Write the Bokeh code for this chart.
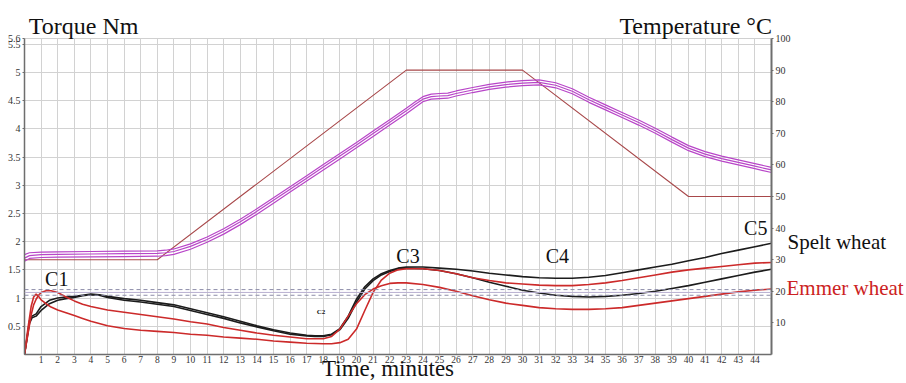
from bokeh.plotting import figure
from bokeh.models import Range1d, LinearAxis, FixedTicker, Span, Label
from bokeh.embed import file_html
from bokeh.resources import INLINE

# ---------------- data ----------------
spelt_t = [0, 0.15, 0.3, 0.45, 0.7, 1, 1.5, 2, 2.5, 3, 3.5, 4, 4.5, 5,
           6, 7, 8, 9, 10, 11, 12, 13, 14, 15, 16, 17,
           17.5, 18, 18.5, 19, 19.5, 20, 20.5, 21, 21.5, 22, 22.5, 23,
           24, 25, 26, 27, 28, 29, 30, 31, 32, 33, 34, 35, 36, 37, 38, 39, 40, 41, 42, 43, 44, 45]
spelt_1 = [0, 0.30, 0.60, 0.68, 0.72, 0.85, 0.96, 1.00, 1.02, 1.03, 1.05, 1.07, 1.06, 1.03,
           0.99, 0.96, 0.92, 0.88, 0.81, 0.74, 0.67, 0.59, 0.51, 0.44, 0.38, 0.34,
           0.33, 0.33, 0.36, 0.46, 0.68, 0.98, 1.20, 1.34, 1.43, 1.49, 1.53, 1.55,
           1.55, 1.53, 1.51, 1.48, 1.44, 1.41, 1.38, 1.36, 1.35, 1.35, 1.37, 1.40, 1.45, 1.50,
           1.55, 1.60, 1.66, 1.72, 1.79, 1.85, 1.91, 1.97]
spelt_2 = [0, 0.28, 0.55, 0.65, 0.68, 0.78, 0.90, 0.96, 0.99, 1.01, 1.04, 1.06, 1.05, 1.01,
           0.96, 0.93, 0.89, 0.85, 0.78, 0.71, 0.64, 0.56, 0.49, 0.42, 0.36, 0.33,
           0.32, 0.32, 0.35, 0.44, 0.64, 0.93, 1.16, 1.31, 1.41, 1.47, 1.51, 1.53,
           1.52, 1.49, 1.43, 1.36, 1.28, 1.21, 1.14, 1.09, 1.05, 1.03, 1.02, 1.03, 1.05, 1.08,
           1.12, 1.17, 1.22, 1.28, 1.34, 1.40, 1.46, 1.51]

emmer_t = [0, 0.2, 0.4, 0.55, 0.7, 0.85, 1, 1.3, 1.6, 2, 2.5, 3, 3.5, 4,
           5, 6, 7, 8, 9, 10, 11, 12, 13, 14, 15, 16, 17, 18,
           18.5, 19, 19.5, 20, 20.5, 21, 21.5, 22, 22.5, 23,
           24, 25, 26, 27, 28, 29, 30, 31, 32, 33, 34, 35, 36, 37, 38, 39, 40, 41, 42, 43, 44, 45]
emmer_1 = [0, 0.45, 0.85, 1.02, 1.07, 1.03, 0.97, 0.90, 0.84, 0.79, 0.74, 0.69, 0.64, 0.59,
           0.51, 0.46, 0.43, 0.41, 0.39, 0.36, 0.34, 0.31, 0.29, 0.27, 0.24, 0.22, 0.20, 0.19,
           0.19, 0.21, 0.27, 0.45, 0.78, 1.10, 1.32, 1.44, 1.50, 1.52,
           1.52, 1.49, 1.43, 1.36, 1.31, 1.27, 1.25, 1.23, 1.22, 1.22, 1.24, 1.27, 1.31, 1.36,
           1.41, 1.46, 1.50, 1.53, 1.56, 1.59, 1.62, 1.63]
emmer_2 = [0, 0.35, 0.70, 0.88, 0.98, 1.05, 1.10, 1.13, 1.13, 1.10, 1.02, 0.95, 0.89, 0.85,
           0.79, 0.75, 0.71, 0.67, 0.63, 0.58, 0.54, 0.48, 0.43, 0.38, 0.34, 0.31, 0.28, 0.28,
           0.32, 0.45, 0.68, 0.90, 1.06, 1.16, 1.22, 1.26, 1.27, 1.27,
           1.24, 1.19, 1.12, 1.04, 0.97, 0.91, 0.87, 0.83, 0.81, 0.80, 0.80, 0.81, 0.83, 0.87,
           0.91, 0.95, 0.99, 1.03, 1.07, 1.11, 1.14, 1.16]

# set temperature profile (deg C)
temp_t = [0, 8, 23, 30, 40, 45]
temp_set = [30, 30, 90, 90, 50, 50]

# measured dough temperatures (deg C)
mag_t = [0, 0.3, 1, 2, 4, 6, 8, 8.5, 9, 10, 11, 12, 13, 14, 15, 16, 17, 18, 19, 20, 21, 22, 23,
         23.5, 24, 24.5, 25, 25.5, 26, 27, 28, 29, 30, 31, 32, 33, 34, 35, 36, 37, 38, 39, 40,
         41, 42, 43, 44, 45]
mag_1 = [31.6, 32.2, 32.4, 32.5, 32.6, 32.7, 32.8, 33.0, 33.4, 35.0, 37.2, 39.8, 42.8, 46.1,
         49.6, 53.1, 56.6, 60.1, 63.6, 67.1, 70.7, 74.3, 77.9, 79.8, 81.6, 82.4, 82.6, 82.7,
         83.4, 84.5, 85.5, 86.2, 86.7, 86.9, 86.0, 84.1, 81.4, 79.0, 76.6, 74.2, 71.6, 68.8,
         66.1, 64.2, 62.8, 61.6, 60.4, 59.2]
mag_2 = [30.5, 31.3, 31.6, 31.7, 31.8, 31.9, 32.0, 32.2, 32.6, 34.2, 36.4, 39.0, 42.0, 45.3,
         48.8, 52.3, 55.8, 59.3, 62.8, 66.3, 69.9, 73.5, 77.1, 79.0, 80.8, 81.6, 81.8, 81.9,
         82.6, 83.7, 84.7, 85.4, 85.9, 86.1, 85.2, 83.3, 80.6, 78.2, 75.8, 73.4, 70.8, 68.0,
         65.3, 63.4, 62.0, 60.8, 59.6, 58.4]
mag_3 = [29.5, 30.4, 30.7, 30.8, 30.9, 31.0, 31.1, 31.3, 31.7, 33.3, 35.5, 38.1, 41.1, 44.4,
         47.9, 51.4, 54.9, 58.4, 61.9, 65.4, 69.0, 72.6, 76.2, 78.1, 80.0, 80.8, 81.0, 81.1,
         81.8, 82.9, 83.9, 84.6, 85.1, 85.3, 84.4, 82.5, 79.8, 77.4, 75.0, 72.6, 70.0, 67.2,
         64.5, 62.6, 61.2, 60.0, 58.8, 57.6]

x_ticks = list(range(1, 45))
torque_ticks = [0.5, 1, 1.5, 2, 2.5, 3, 3.5, 4, 4.5, 5, 5.5, 5.6]
torque_labels = ["0.5", "1", "1.5", "2", "2.5", "3", "3.5", "4", "4.5", "5", "5.5", "5.6"]
temp_ticks = [10, 20, 30, 40, 50, 60, 70, 80, 90, 100]
target_lines = [1.05, 1.15]
target_mid = 1.1

SERIF = "Liberation Serif"

# ---------------- figure ----------------
p = figure(width=906, height=383, output_backend="svg", toolbar_location=None,
           x_range=Range1d(0, 45), y_range=Range1d(0, 5.6),
           min_border_left=24, min_border_right=134, min_border_top=38, min_border_bottom=27)
p.extra_y_ranges = {"temp": Range1d(0, 100)}
p.outline_line_color = "#d0d0d0"

p.xgrid.ticker = FixedTicker(ticks=x_ticks)
p.ygrid.ticker = FixedTicker(ticks=torque_ticks)
for g in (p.xgrid, p.ygrid):
    g.grid_line_color = "#d2d2d2"
    g.grid_line_width = 1

p.xaxis.ticker = FixedTicker(ticks=x_ticks)
p.yaxis.ticker = FixedTicker(ticks=torque_ticks)
p.yaxis.major_label_overrides = dict(zip(torque_ticks, torque_labels))
right = LinearAxis(y_range_name="temp", ticker=FixedTicker(ticks=temp_ticks))
p.add_layout(right, "right")

for ax in (p.xaxis[0], p.yaxis[0], right):
    ax.axis_line_color = "#6e6e6e"
    ax.axis_line_width = 1.5
    ax.major_tick_line_color = "#6e6e6e"
    ax.major_tick_out = 2
    ax.major_tick_in = 0
    ax.minor_tick_line_color = None
    ax.major_label_text_font = SERIF
    ax.major_label_text_font_size = "10px"
    ax.major_label_text_color = "#333333"
    ax.major_label_standoff = 2
right.axis_line_width = 2
p.xaxis.major_tick_out = 0
p.xaxis.major_label_standoff = 1
p.xaxis.major_label_text_font_size = "9.5px"


def text_axis(ticks, labels, size, color, standoff):
    """An axis with no line or ticks, used only to carry a text outside the frame."""
    return LinearAxis(ticker=FixedTicker(ticks=ticks),
                      major_label_overrides=dict(zip(ticks, labels)),
                      axis_line_color=None, major_tick_line_color=None,
                      minor_tick_line_color=None, major_tick_out=0, major_tick_in=0,
                      major_label_text_font=SERIF, major_label_text_font_size=size,
                      major_label_text_color=color, major_label_standoff=standoff)


# header titles (above the frame)
p.add_layout(text_axis([3.56, 40.43], ["Torque Nm", "Temperature °C"], "24px",
                       "#111111", 0), "above")
# x axis title (below the tick labels)
p.add_layout(text_axis([21.9], ["Time, minutes"], "23px", "#111111", -10), "below")
# series names to the right of the temperature axis
p.add_layout(text_axis([2.0], ["Spelt wheat"], "21px", "#111111", -6), "right")
p.add_layout(text_axis([1.18], ["Emmer wheat"], "21px", "#cc2222", -103), "right")

for loc in target_lines:
    p.add_layout(Span(location=loc, dimension="width", line_color="#8c8ca8",
                      line_dash="4 3", line_width=1))
p.add_layout(Span(location=target_mid, dimension="width", line_color="#b8b0d0", line_width=1))

p.line(temp_t, temp_set, y_range_name="temp", line_color="#a8484a", line_width=1.1)
for m in (mag_1, mag_2, mag_3):
    p.line(mag_t, m, y_range_name="temp", line_color="#b845c8", line_width=1.2)

p.line(spelt_t, spelt_1, line_color="#1c1c1c", line_width=1.6)
p.line(spelt_t, spelt_2, line_color="#1c1c1c", line_width=1.6)
p.line(emmer_t, emmer_1, line_color="#cc2a2a", line_width=1.6)
p.line(emmer_t, emmer_2, line_color="#cc2a2a", line_width=1.6)


def lab(x, y, text, size, style="normal"):
    p.add_layout(Label(x=x, y=y, text=text, text_font=SERIF, text_font_size=size,
                       text_color="#111111", text_baseline="alphabetic",
                       text_font_style=style))


lab(1.24, 1.34, "C1", "20px")
lab(17.6, 0.76, "C2", "7px", style="bold")
lab(22.4, 1.74, "C3", "20px")
lab(31.4, 1.74, "C4", "20px")
lab(43.35, 2.25, "C5", "20px")

open("out.html", "w").write(file_html(p, INLINE))
